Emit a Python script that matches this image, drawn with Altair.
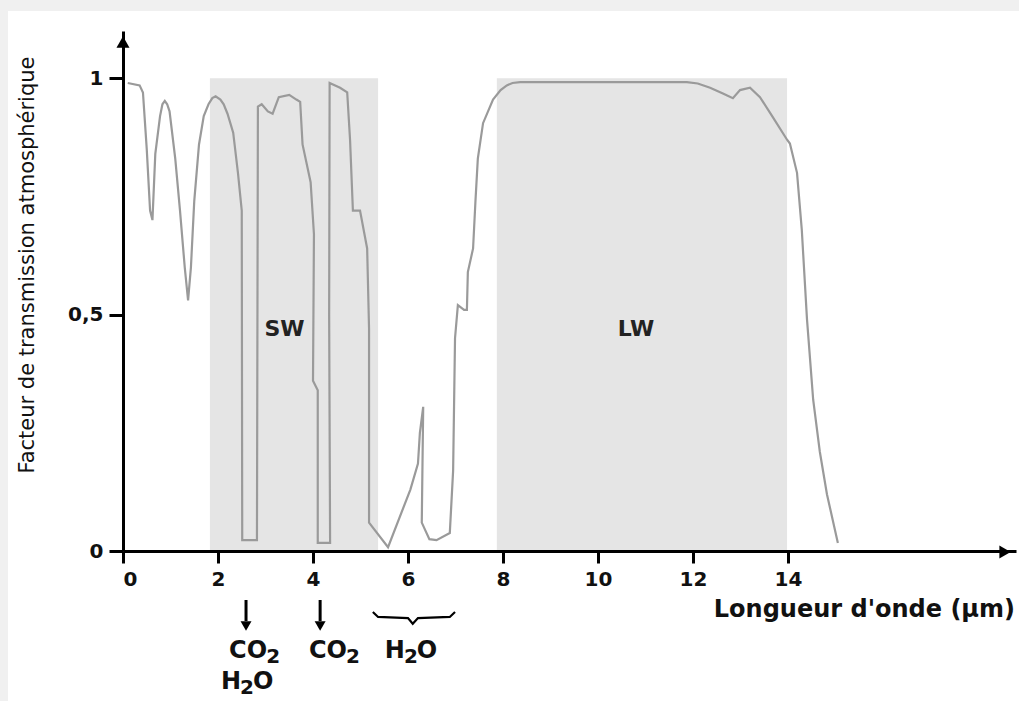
import altair as alt
import pandas as pd

# Atmospheric transmission spectrum (wavelength in micrometres, transmission 0..1)
wavelength = [
    0.10, 0.35, 0.42, 0.50, 0.57, 0.62, 0.68, 0.78, 0.83, 0.88, 0.93, 0.98,
    1.10, 1.20, 1.30, 1.37, 1.43, 1.50, 1.60, 1.70, 1.80, 1.88, 1.95, 2.05,
    2.12, 2.20, 2.32, 2.42, 2.50, 2.51, 2.82, 2.84, 2.92, 3.05, 3.15, 3.28,
    3.50, 3.65, 3.73, 3.78, 3.95, 4.02, 4.00, 4.10, 4.10, 4.36, 4.34, 4.35,
    4.57, 4.72, 4.78, 4.84, 4.99, 5.14, 5.18, 5.18, 5.58, 6.05, 6.21, 6.25,
    6.32, 6.29, 6.45, 6.60, 6.88, 6.95, 6.99, 7.05, 7.18, 7.24, 7.26, 7.37,
    7.42, 7.47, 7.58, 7.79, 7.95, 8.08, 8.20, 8.36, 11.87, 12.10, 12.36,
    12.63, 12.84, 12.99, 13.20, 13.41, 13.68, 13.98, 14.04, 14.19, 14.29,
    14.40, 14.53, 14.67, 14.82, 15.05,
]
transmission = [
    0.99, 0.985, 0.97, 0.85, 0.72, 0.70, 0.84, 0.92, 0.945, 0.952, 0.945, 0.93,
    0.83, 0.72, 0.60, 0.53, 0.60, 0.74, 0.86, 0.92, 0.945, 0.958, 0.962, 0.955,
    0.945, 0.925, 0.885, 0.80, 0.72, 0.023, 0.023, 0.94, 0.945, 0.93, 0.925, 0.96,
    0.965, 0.955, 0.95, 0.86, 0.78, 0.67, 0.36, 0.34, 0.017, 0.017, 0.50, 0.99,
    0.98, 0.97, 0.87, 0.72, 0.72, 0.64, 0.47, 0.06, 0.008, 0.13, 0.185, 0.25,
    0.305, 0.06, 0.025, 0.023, 0.038, 0.17, 0.45, 0.52, 0.51, 0.51, 0.59, 0.64,
    0.74, 0.83, 0.905, 0.955, 0.975, 0.985, 0.99, 0.992, 0.992, 0.989, 0.98,
    0.968, 0.958, 0.975, 0.98, 0.96, 0.918, 0.87, 0.862, 0.80, 0.68,
    0.49, 0.32, 0.21, 0.12, 0.017,
]

# Shaded windows
band_names = ["SW", "LW"]
band_start = [1.83, 7.87]
band_end = [5.37, 13.98]
band_label_x = [3.4, 10.8]
band_label_y = [0.47, 0.47]

# Absorbers under the axis: formula split around its subscript
arrow_x = [2.59, 4.15]
gas_before = ["CO", "CO", "H", "H"]
gas_sub = ["2", "2", "2", "2"]
gas_after = ["", "", "O", "O"]
gas_x = [3.16, 4.84, 6.06, 2.61]          # centre of the subscript digit
gas_line = ["top", "top", "top", "bottom"]
brace_x = [5.26, 5.37, 6.00, 6.10, 6.21, 6.88, 6.99]
brace_y = [-0.129, -0.1395, -0.142, -0.154, -0.142, -0.1395, -0.129]

x_ticks = [0, 2, 4, 6, 8, 10, 12, 14]
y_ticks = [0, 0.5, 1]

X_MAX = 18.8
Y_MAX = 1.1
W, H = 893, 520

xs = alt.Scale(domain=[0, X_MAX], nice=False, zero=False)
ys = alt.Scale(domain=[0, Y_MAX], nice=False, zero=False)

one = pd.DataFrame({"k": [0]})
curve = pd.DataFrame({"x": wavelength, "y": transmission, "i": range(len(wavelength))})
bands = pd.DataFrame({"name": band_names, "x0": band_start, "x1": band_end,
                      "lx": band_label_x, "ly": band_label_y})
arrows = pd.DataFrame({"x": arrow_x})
gases = pd.DataFrame({"before": gas_before, "sub": gas_sub, "after": gas_after,
                      "x": gas_x, "line": gas_line})
brace = pd.DataFrame({"x": brace_x, "y": brace_y, "i": range(len(brace_x))})

FONT = "DejaVu Sans"

frame = alt.Chart(one).mark_rect(color="white").encode(
    x=alt.value(-115), x2=alt.value(W + 3), y=alt.value(-20), y2=alt.value(670)
)

shade = alt.Chart(bands).mark_rect(color="#e5e5e5").encode(
    x=alt.X("x0:Q", scale=xs,
            axis=alt.Axis(values=x_ticks, title=None, tickSize=12, labelPadding=6,
                          domainWidth=3, tickWidth=3, zindex=1, grid=False,
                          labelFont=FONT, labelFontWeight="bold", labelFontSize=20,
                          labelColor="#111", domainColor="#000", tickColor="#000")),
    x2="x1:Q",
    y=alt.Y("y0:Q", scale=ys,
            axis=alt.Axis(values=y_ticks, title=None, tickSize=14, labelPadding=6,
                          domainWidth=3, tickWidth=3, zindex=1, grid=False,
                          labelExpr="datum.value == 0.5 ? '0,5' : (datum.value == 0 ? '0' : '1')",
                          labelFont=FONT, labelFontWeight="bold", labelFontSize=20,
                          labelColor="#111", domainColor="#000", tickColor="#000")),
    y2="y1:Q",
).transform_calculate(y0="0", y1="1")

band_text = alt.Chart(bands).mark_text(
    font=FONT, fontWeight="bold", fontSize=22, color="#222"
).encode(x=alt.X("lx:Q", scale=xs), y=alt.Y("ly:Q", scale=ys), text="name:N")

line = alt.Chart(curve).mark_line(color="#9a9a9a", strokeWidth=2.2).encode(
    x=alt.X("x:Q", scale=xs), y=alt.Y("y:Q", scale=ys), order="i:Q"
)

y_head = alt.Chart(one).mark_point(
    shape="triangle-up", filled=True, size=170, color="#000", opacity=1
).encode(x=alt.value(0), y=alt.value(11))

x_head = alt.Chart(one).mark_point(
    shape="triangle-right", filled=True, size=170, color="#000", opacity=1
).encode(x=alt.value(W - 11), y=alt.value(H + 1))

shafts = alt.Chart(arrows).mark_rule(color="#000", strokeWidth=3).encode(
    x=alt.X("x:Q", scale=xs), y=alt.value(569), y2=alt.value(590)
)
heads = alt.Chart(arrows).mark_point(
    shape="triangle-down", filled=True, size=120, color="#000", opacity=1
).encode(x=alt.X("x:Q", scale=xs), y=alt.value(595))

brace_line = alt.Chart(brace).mark_line(color="#000", strokeWidth=2.2).encode(
    x=alt.X("x:Q", scale=xs), y=alt.Y("y:Q", scale=ys), order="i:Q"
)


def formula_layers(line_name, y_px):
    base = alt.Chart(gases).transform_filter(alt.datum.line == line_name)
    common = dict(font=FONT, fontWeight="bold", color="#111", baseline="middle")
    before = base.mark_text(fontSize=24, align="right", dx=-6, **common).encode(
        x=alt.X("x:Q", scale=xs), y=alt.value(y_px), text="before:N")
    sub = base.mark_text(fontSize=20, align="center", dy=6, **common).encode(
        x=alt.X("x:Q", scale=xs), y=alt.value(y_px), text="sub:N")
    after = base.mark_text(fontSize=24, align="left", dx=6, **common).encode(
        x=alt.X("x:Q", scale=xs), y=alt.value(y_px), text="after:N")
    return [before, sub, after]


gas_layers = formula_layers("top", 620) + formula_layers("bottom", 651)

x_title = alt.Chart(one).mark_text(
    text="Longueur d'onde (µm)", font=FONT, fontWeight="bold", fontSize=24,
    color="#111", align="right", baseline="middle"
).encode(x=alt.value(W - 1), y=alt.value(579))

y_title = alt.Chart(one).mark_text(
    text="Facteur de transmission atmosphérique", font=FONT, fontSize=21,
    color="#111", angle=270, align="center", baseline="middle"
).encode(x=alt.value(-95), y=alt.value(234))

chart = alt.layer(
    frame, shade, band_text, line, y_head, x_head, shafts, heads, brace_line,
    *gas_layers, x_title, y_title
).properties(
    width=W, height=H,
    padding={"left": 123, "top": 31, "right": 3, "bottom": 150},
    autosize=alt.AutoSizeParams(type="none"),
).configure(background="#f0f0f0").configure_view(strokeWidth=0)

chart.save("out.html", embed_options={"renderer": "svg", "actions": False})
